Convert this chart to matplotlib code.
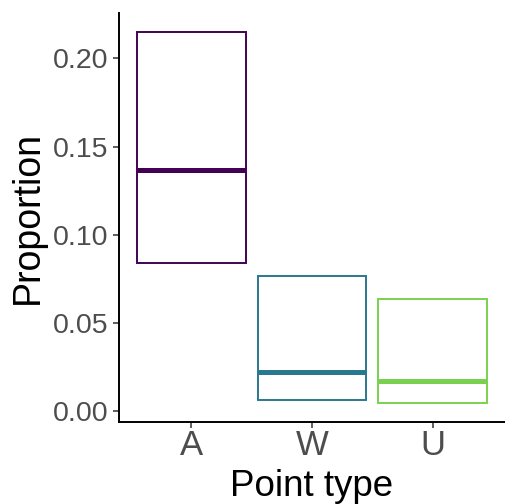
import matplotlib
matplotlib.use("Agg")
import matplotlib.pyplot as plt
import numpy as np

categories = ["A", "W", "U"]
middle = [0.1367, 0.0219, 0.0168]
lower = [0.0838, 0.0061, 0.0044]
upper = [0.2150, 0.0766, 0.0634]
colors = ["#440154", "#2A788E", "#7AD151"]
yticks = [0.00, 0.05, 0.10, 0.15, 0.20]
ytick_labels = ["0.00", "0.05", "0.10", "0.15", "0.20"]

plt.rcParams['font.family'] = ['Liberation Sans', 'DejaVu Sans']

fig = plt.figure(figsize=(5.05, 5.04), dpi=100)
ax = fig.add_axes([119/505, (504-421.7)/504, 1 - 119/505, (421.7-13)/504])

x = np.arange(len(categories))
w = 0.9
lo = np.array(lower)
hi = np.array(upper)
ax.bar(x, hi - lo, bottom=lo, width=w, fill=False, edgecolor=colors, linewidth=1.4)
for xi, m, c in zip(x, middle, colors):
    ax.hlines(m, xi - w/2, xi + w/2, colors=c, linewidth=3.6, capstyle='butt')

ax.set_xlim(-0.6, len(categories) - 1 + 0.6)
ax.set_ylim(-0.0061, 0.2258)
ax.set_xticks(x)
ax.set_xticklabels(categories)
ax.set_yticks(yticks)
ax.set_yticklabels(ytick_labels)

for s in ["top", "right"]:
    ax.spines[s].set_visible(False)
for s in ["left", "bottom"]:
    ax.spines[s].set_linewidth(1.4)
    ax.spines[s].set_color("black")

ax.tick_params(axis='y', labelsize=20.5, labelcolor="#4D4D4D", color="#333333", length=4.5, width=1.1, pad=3)
ax.tick_params(axis='x', labelsize=25, labelcolor="#4D4D4D", color="#333333", length=4.5, width=1.1, pad=1)

ax.set_xlabel("Point type", fontsize=26.5, labelpad=5)
ax.set_ylabel("Proportion", fontsize=27, labelpad=5)

fig.savefig("out.png", dpi=100)
